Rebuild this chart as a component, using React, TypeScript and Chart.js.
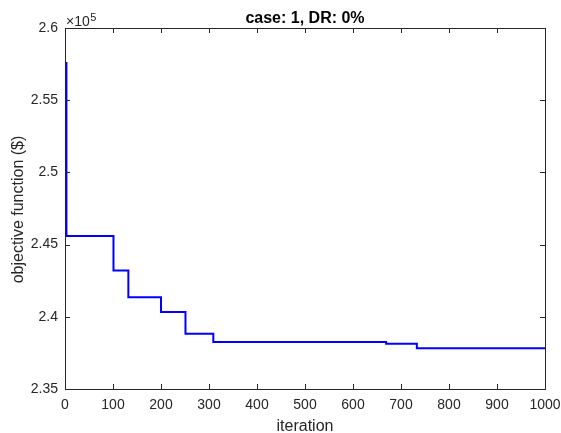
import React, { useEffect, useRef } from "react";
import { Chart, registerables } from "chart.js";

Chart.register(...registerables);

const iterations = [1, 3, 101, 132, 200, 251, 309, 669, 733, 1000];
const objective = [257580, 245600, 243200, 241360, 240330, 238830, 238260, 238140, 237820, 237820];
const xTickStep = 100;
const yTickStep = 5000;
const titleText = "case: 1, DR: 0%";
const xLabel = "iteration";
const yLabel = "objective function ($)";

const TEXT = "#262626";
const FONT = "'Liberation Sans', Arial, Helvetica, sans-serif";

const decorPlugin = {
  id: "decor",
  afterDraw(chart: any) {
    const { ctx, chartArea } = chart;
    const { left, right, top, bottom } = chartArea;
    const xs = chart.scales.x;
    const ys = chart.scales.y;
    ctx.save();
    ctx.strokeStyle = TEXT;
    ctx.lineWidth = 1;
    ctx.beginPath();
    ctx.moveTo(left, top + 0.5);
    ctx.lineTo(right + 0.5, top + 0.5);
    ctx.lineTo(right + 0.5, bottom);
    const L = 5;
    xs.ticks.forEach((t: any) => {
      const px = Math.round(xs.getPixelForValue(t.value)) + 0.5;
      ctx.moveTo(px, bottom);
      ctx.lineTo(px, bottom - L);
      ctx.moveTo(px, top);
      ctx.lineTo(px, top + L);
    });
    ys.ticks.forEach((t: any) => {
      const py = Math.round(ys.getPixelForValue(t.value)) + 0.5;
      ctx.moveTo(left, py);
      ctx.lineTo(left + L, py);
      ctx.moveTo(right, py);
      ctx.lineTo(right - L, py);
    });
    ctx.stroke();

    ctx.fillStyle = "#000";
    ctx.textAlign = "center";
    ctx.textBaseline = "alphabetic";
    ctx.font = `bold 16px ${FONT}`;
    ctx.fillText(titleText, (left + right) / 2, 23);

    ctx.fillStyle = TEXT;
    ctx.font = `16px ${FONT}`;
    ctx.fillText(xLabel, (left + right) / 2, 431);

    ctx.save();
    ctx.translate(22.5, (top + bottom) / 2 + 1);
    ctx.rotate(-Math.PI / 2);
    ctx.fillText(yLabel, 0, 0);
    ctx.restore();

    ctx.textAlign = "left";
    ctx.font = `14px ${FONT}`;
    ctx.fillText("\u00d710", left + 1, 26);
    const w = ctx.measureText("\u00d710").width;
    ctx.font = `11px ${FONT}`;
    ctx.fillText("5", left + 1 + w + 0.5, 21);
    ctx.restore();
  },
};

export default function App() {
  const ref = useRef<HTMLCanvasElement>(null);
  useEffect(() => {
    document.body.style.margin = "0";
    const data = iterations.map((x, i) => ({ x, y: objective[i] }));
    const chart = new Chart(ref.current as HTMLCanvasElement, {
      type: "line",
      data: {
        datasets: [
          {
            data,
            borderColor: "#0000ff",
            borderWidth: 2,
            pointRadius: 0,
            stepped: "before",
            fill: false,
          },
        ],
      },
      options: {
        animation: false,
        responsive: false,
        devicePixelRatio: 1,
        layout: { padding: { top: 28, right: 16, left: 0, bottom: 0 } },
        plugins: { legend: { display: false }, tooltip: { enabled: false }, title: { display: false } },
        scales: {
          x: {
            type: "linear",
            min: 0,
            max: 1000,
            ticks: {
              stepSize: xTickStep,
              color: TEXT,
              font: { family: FONT, size: 14 },
              padding: 8,
              maxRotation: 0,
              autoSkip: false,
              callback: (v: any) => String(v),
            },
            grid: { display: true, drawOnChartArea: false, drawTicks: false },
            border: { display: true, color: TEXT, width: 1 },
            afterFit: (s: any) => {
              s.height = 44;
              s.paddingLeft = 0;
              s.paddingRight = 0;
            },
          },
          y: {
            type: "linear",
            min: 235000,
            max: 260000,
            ticks: {
              stepSize: yTickStep,
              color: TEXT,
              font: { family: FONT, size: 14 },
              padding: 7,
              callback: (v: any) => String(parseFloat((Number(v) / 1e5).toFixed(2))),
            },
            grid: { display: true, drawOnChartArea: false, drawTicks: false },
            border: { display: true, color: TEXT, width: 1 },
            afterFit: (s: any) => {
              s.width = 65;
              s.paddingTop = 0;
              s.paddingBottom = 0;
            },
          },
        },
      },
      plugins: [decorPlugin],
    } as any);
    return () => chart.destroy();
  }, []);
  return (
    <div style={{ width: 561, height: 433, background: "#fff" }}>
      <canvas ref={ref} width={561} height={433} style={{ display: "block", width: 561, height: 433 }} />
    </div>
  );
}
